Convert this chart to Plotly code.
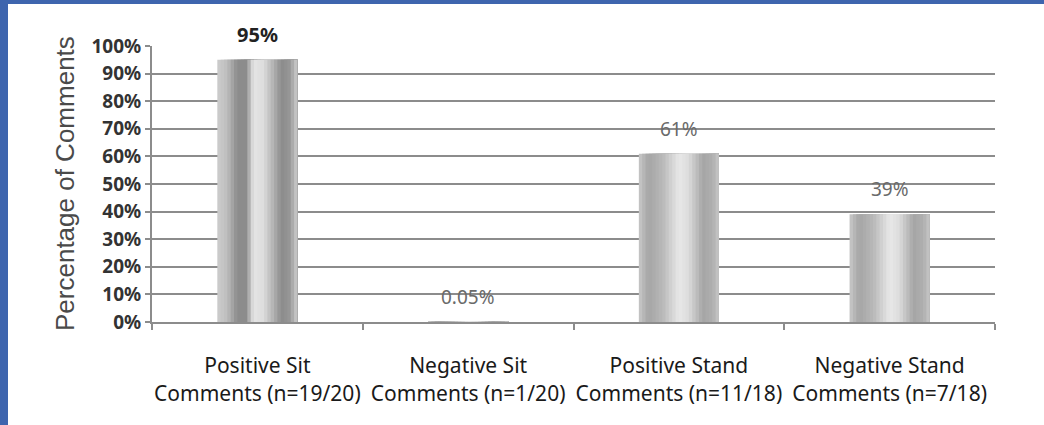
import plotly.graph_objects as go

# ---- data ----
categories = [
    "Positive Sit<br>Comments (n=19/20)",
    "Negative Sit<br>Comments (n=1/20)",
    "Positive Stand<br>Comments (n=11/18)",
    "Negative Stand<br>Comments (n=7/18)",
]
values = [0.95, 0.0005, 0.61, 0.39]
value_labels = ["95%", "0.05%", "61%", "39%"]
y_ticks = [0, 0.1, 0.2, 0.3, 0.4, 0.5, 0.6, 0.7, 0.8, 0.9, 1.0]
y_title = "Percentage of Comments"

# ---- styling helpers (shading profiles, not data) ----
def interp(profile, t):
    for (p0, g0), (p1, g1) in zip(profile, profile[1:]):
        if p0 <= t <= p1:
            f = 0 if p1 == p0 else (t - p0) / (p1 - p0)
            return g0 + (g1 - g0) * f
    return profile[-1][1]

stripe_profile = [(0, 205), (0.12, 190), (0.25, 140), (0.36, 140), (0.45, 228),
                  (0.57, 222), (0.68, 185), (0.8, 140), (0.9, 150), (1.0, 205)]
diag_profile = [(0, 200), (0.12, 165), (0.3, 185), (0.5, 232), (0.62, 220),
                (0.8, 165), (0.92, 175), (1.0, 200)]

def gray(v):
    v = int(round(v))
    return f"rgb({v},{v},{v})"

W = 0.38
N = 24
fig = go.Figure()
for i in range(N):
    t = (i + 0.5) / N
    off = -W / 2 + i * W / N
    cols = [gray(interp(stripe_profile, t))] + [gray(interp(diag_profile, t))] * 3
    fig.add_trace(go.Bar(
        x=categories, y=values, offset=off, width=W / 2 - off,
        marker=dict(color=cols, line=dict(width=0)),
        showlegend=False, hoverinfo="skip",
    ))

# value labels
label_styles = [
    dict(color="#222222", size=20, weight="bold"),
    dict(color="#6a6a6a", size=19),
    dict(color="#6a6a6a", size=19),
    dict(color="#6a6a6a", size=19),
]
for cat, v, lab, st in zip(categories, values, value_labels, label_styles):
    fig.add_annotation(x=cat, y=v, text=lab, showarrow=False, yshift=25,
                       font=dict(family="Noto Sans", **st))

# y axis title
fig.add_annotation(xref="paper", yref="paper", x=(65 - 152) / 843, y=0.5,
                   xanchor="center", yanchor="middle",
                   text=y_title, textangle=-90, showarrow=False,
                   font=dict(family="Liberation Sans", size=26, color="#4a4a4a"))

# blue frame strips
blue = "#3e65ae"
fig.add_shape(type="rect", xref="paper", yref="paper",
              x0=-152 / 843, x1=(8 - 152) / 843, y0=-103 / 276, y1=1 + 46 / 276,
              fillcolor=blue, line=dict(width=0), layer="above")
fig.add_shape(type="rect", xref="paper", yref="paper",
              x0=-152 / 843, x1=1 + 49 / 843, y0=1 + 42 / 276, y1=1 + 46 / 276,
              fillcolor=blue, line=dict(width=0), layer="above")

axis_col = "#8c8c8c"
fig.update_layout(
    width=1044, height=425,
    margin=dict(l=152, r=49, t=46, b=103),
    paper_bgcolor="white", plot_bgcolor="white",
    barmode="overlay",
    xaxis=dict(
        showline=True, linecolor=axis_col, linewidth=2,
        ticks="outside", tickson="boundaries", ticklen=6, tickwidth=2, tickcolor=axis_col,
        tickangle=0, showgrid=False, ticklabelstandoff=24,
        tickfont=dict(family="Noto Sans", size=21, color="#1a1a1a"),
    ),
    yaxis=dict(
        range=[0, 1.0], tickvals=y_ticks, tickformat=".0%",
        showline=True, linecolor=axis_col, linewidth=2,
        ticks="outside", ticklen=5, tickwidth=2, tickcolor=axis_col,
        showgrid=True, gridcolor=axis_col, gridwidth=2, zeroline=False,
        tickfont=dict(family="Noto Sans", size=19, color="#333333", weight="bold"),
    ),
)

fig.write_html("out.html")
